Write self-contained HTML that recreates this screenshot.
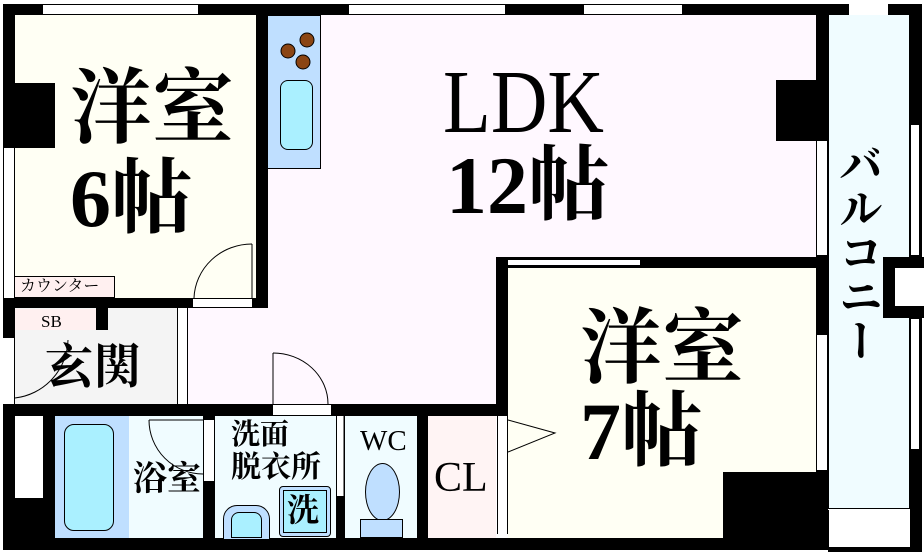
<!DOCTYPE html>
<html><head><meta charset="utf-8"><style>
body{margin:0;width:924px;height:552px;position:relative;background:#fff;overflow:hidden}
div{position:absolute;box-sizing:border-box}
.b{background:#000}
.w{background:#fff}
.t{font-family:"Liberation Serif","Noto Serif CJK SC","Noto Serif CJK JP",serif;color:#000;white-space:nowrap;line-height:1;font-weight:bold}
svg{position:absolute;left:0;top:0}
</style></head><body>
<!-- room fills -->
<div style="left:15px;top:15px;width:241px;height:283px;background:#fffff4"></div>
<div style="left:268px;top:15px;width:548px;height:242px;background:#fff8ff"></div>
<div style="left:188px;top:308px;width:308px;height:96px;background:#fff8ff"></div>
<div style="left:268px;top:250px;width:228px;height:60px;background:#fff8ff"></div>
<div style="left:508px;top:268px;width:308px;height:270px;background:#fffff4"></div>
<div style="left:15px;top:308px;width:162px;height:96px;background:#f4f4f4"></div>
<div style="left:129px;top:416px;width:74px;height:122px;background:#f0fcff"></div>
<div style="left:215px;top:416px;width:121px;height:122px;background:#f0fcff"></div>
<div style="left:345px;top:416px;width:72px;height:122px;background:#f0fcff"></div>
<div style="left:428px;top:416px;width:68px;height:122px;background:#fff4f4"></div>
<div style="left:55px;top:416px;width:74px;height:122px;background:#bfdfff"></div>

<!-- walls -->
<div class="b" style="left:3px;top:4px;width:919px;height:11px"></div>
<div class="b" style="left:3px;top:4px;width:12px;height:546px"></div>
<div class="b" style="left:3px;top:538px;width:825px;height:12px"></div>
<div class="b" style="left:910px;top:4px;width:12px;height:546px"></div>
<div class="b" style="left:816px;top:15px;width:12px;height:535px"></div>
<div class="b" style="left:256px;top:15px;width:12px;height:293px"></div>
<div class="b" style="left:3px;top:298px;width:265px;height:10px"></div>
<div class="b" style="left:3px;top:404px;width:504px;height:12px"></div>
<div class="b" style="left:496px;top:257px;width:12px;height:159px"></div>
<div class="b" style="left:496px;top:257px;width:330px;height:11px"></div>
<div class="b" style="left:3px;top:83px;width:52px;height:65px"></div>
<div class="b" style="left:776px;top:80px;width:50px;height:61px"></div>
<div class="b" style="left:723px;top:472px;width:100px;height:70px"></div>
<div class="b" style="left:3px;top:416px;width:52px;height:130px"></div>
<div class="w" style="left:15px;top:416px;width:28px;height:82px"></div>
<div class="b" style="left:96px;top:308px;width:12px;height:22px"></div>
<div class="b" style="left:203px;top:416px;width:12px;height:124px"></div>
<div class="b" style="left:336px;top:416px;width:9px;height:124px"></div>
<div class="b" style="left:417px;top:416px;width:11px;height:124px"></div>

<!-- balcony -->
<div style="left:828px;top:15px;width:82px;height:494px;background:#f0fcff;border-left:1px solid #000;border-right:1px solid #000;border-bottom:1px solid #000"></div>
<div class="w" style="left:828px;top:510px;width:82px;height:38px;border-left:1px solid #000"></div>
<div class="b" style="left:828px;top:547px;width:94px;height:5px"></div>
<div class="w" style="left:849px;top:4px;width:39px;height:11px"></div>
<div class="w" style="left:910px;top:124px;width:10px;height:132px;border:1px solid #000"></div>
<div class="w" style="left:910px;top:318px;width:10px;height:132px;border:1px solid #000"></div>
<div class="b" style="left:883px;top:257px;width:41px;height:61px"></div>
<div class="w" style="left:895px;top:268px;width:29px;height:38px"></div>

<!-- windows & openings -->
<div class="w" style="left:43px;top:4px;width:155px;height:11px;border-top:1px solid #000;border-bottom:1px solid #000"></div>
<div class="w" style="left:349px;top:4px;width:156px;height:11px;border-top:1px solid #000;border-bottom:1px solid #000"></div>
<div class="w" style="left:584px;top:4px;width:98px;height:11px;border-top:1px solid #000;border-bottom:1px solid #000"></div>
<div class="w" style="left:3px;top:148px;width:12px;height:150px;border-left:1px solid #000;border-right:1px solid #000"></div>
<div class="w" style="left:816px;top:141px;width:12px;height:114px;border-left:1px solid #000;border-right:1px solid #000"></div>
<div class="w" style="left:816px;top:335px;width:12px;height:135px;border-left:1px solid #000;border-right:1px solid #000"></div>
<div class="w" style="left:508px;top:259px;width:132px;height:7px;border-top:1px solid #000;border-bottom:1px solid #000"></div>
<div class="w" style="left:192px;top:298px;width:61px;height:10px;border:1px solid #000"></div>
<div class="w" style="left:272px;top:404px;width:60px;height:12px;border:1px solid #000"></div>
<div class="w" style="left:3px;top:338px;width:12px;height:66px;border-right:1px solid #000"></div>
<div class="w" style="left:177px;top:308px;width:11px;height:96px;border-left:1px solid #000;border-right:1px solid #000"></div>
<div class="w" style="left:203px;top:419px;width:12px;height:63px;border:1px solid #000"></div>
<div class="w" style="left:336px;top:416px;width:9px;height:80px;border-left:1px solid #000;border-right:1px solid #000"></div>
<div class="w" style="left:497px;top:416px;width:11px;height:118px;border-left:1px solid #000;border-right:1px solid #000"></div>

<!-- fixtures -->
<div style="left:268px;top:15px;width:53px;height:154px;background:#bfdfff;border:1px solid #000;border-left:none"></div>
<div style="left:280px;top:80px;width:33px;height:70px;background:#aaf0ff;border:1px solid #000;border-radius:8px"></div>
<div style="left:15px;top:276px;width:100px;height:22px;background:#fff0f0;border:1px solid #000;border-left:none"></div>
<div style="left:15px;top:309px;width:81px;height:21px;background:#fff0f0"></div>
<div style="left:64px;top:424px;width:50px;height:107px;background:#aaf0ff;border:1px solid #000;border-radius:10px"></div>
<div style="left:279px;top:486px;width:52px;height:51px;background:#bfdfff;border:1px solid #000;border-radius:4px"></div>
<div style="left:283px;top:490px;width:44px;height:43px;background:#aaf0ff;border:1px solid #000"></div>
<div style="left:223px;top:505px;width:47px;height:35px;background:#bfdfff;border:1px solid #000;border-radius:14px 14px 0 0"></div>
<div style="left:231px;top:512px;width:31px;height:26px;background:#aaf0ff;border:1px solid #000;border-radius:8px 8px 0 0"></div>
<div style="left:365px;top:463px;width:35px;height:58px;background:#bfdfff;border:1px solid #000;border-radius:50%"></div>
<div style="left:360px;top:519px;width:43px;height:19px;background:#bfdfff;border:1px solid #000"></div>

<svg width="924" height="552">
<g fill="#8b4513" stroke="#000" stroke-width="1">
<circle cx="307" cy="40" r="7"/><circle cx="288" cy="51" r="7"/><circle cx="303" cy="62" r="7"/>
</g>
<g fill="none" stroke="#000" stroke-width="1">
<path d="M252 244 A58 56 0 0 0 194 298"/><line x1="252" y1="244" x2="252" y2="298"/>
<path d="M273 353 A55 51 0 0 1 328 404"/><line x1="273" y1="353" x2="273" y2="404"/>
<path d="M68 340 A60 60 0 0 1 15 398"/>
<path d="M149 420 L203 420 M149 420 A54 54 0 0 0 203 474"/>
<path d="M508 420 L555 433 L508 452"/>
<line x1="344" y1="416" x2="344" y2="496"/>
</g>
</svg>

<!-- text -->
<div class="t" style="left:70px;top:68px;font-size:82px">洋室</div>
<div class="t" style="left:70px;top:158px;font-size:82px">6帖</div>
<div class="t" style="left:443px;top:58px;font-size:90px;font-weight:normal;transform:scaleX(0.87);transform-origin:left top">LDK</div>
<div class="t" style="left:446px;top:145px;font-size:82px">12帖</div>
<div class="t" style="left:580px;top:308px;font-size:82px">洋室</div>
<div class="t" style="left:580px;top:391px;font-size:82px">7帖</div>
<div class="t" style="left:833px;top:142px;font-size:44px;width:46px;writing-mode:vertical-rl;line-height:46px">バルコニー</div>
<div class="t" style="left:45px;top:344px;font-size:48px">玄関</div>
<div class="t" style="left:133px;top:463px;font-size:34px">浴室</div>
<div class="t" style="left:231px;top:421px;font-size:29px">洗面</div>
<div class="t" style="left:231px;top:453px;font-size:30px">脱衣所</div>
<div class="t" style="left:287px;top:494px;font-size:32px">洗</div>
<div class="t" style="left:360px;top:427px;font-size:29px;font-weight:normal">WC</div>
<div class="t" style="left:434px;top:457px;font-size:42px;font-weight:normal">CL</div>
<div class="t" style="left:41px;top:313px;font-size:17px;font-weight:normal">SB</div>
<div class="t" style="left:20px;top:279px;font-size:16px;font-weight:normal">カウンター</div>
</body></html>
